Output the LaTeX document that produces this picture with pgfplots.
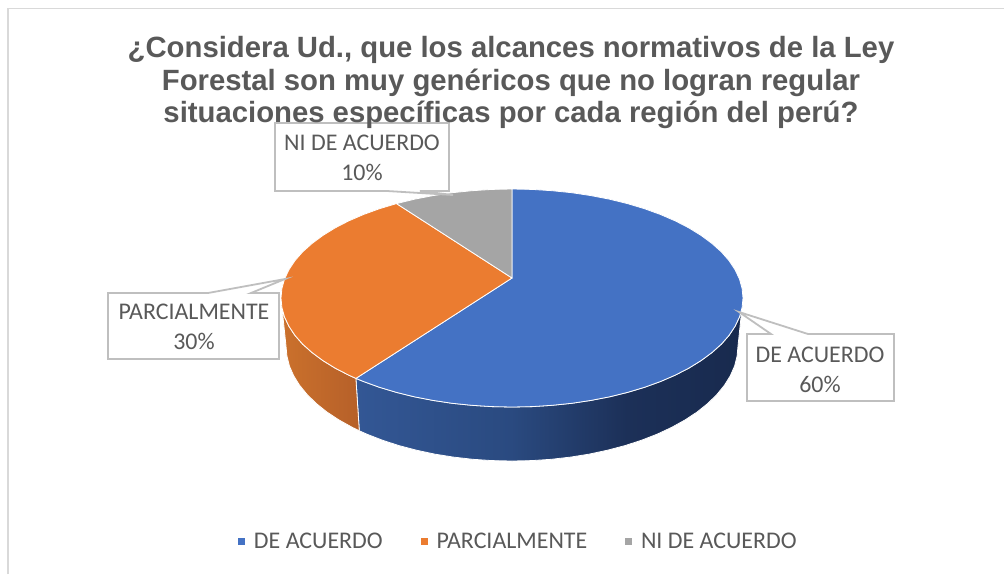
\documentclass[border=0pt]{standalone}
\usepackage{fontspec}
\setmainfont{Carlito}
\newfontfamily\titlefont{Liberation Sans}
\usepackage{pgfplots}
\pgfplotsset{compat=1.18}
\definecolor{frameline}{HTML}{D9D9D9}
\definecolor{callout}{HTML}{BFBFBF}
\definecolor{txt}{HTML}{595959}
\definecolor{blue1}{HTML}{4472C4}
\definecolor{orange1}{HTML}{EB7C30}
\definecolor{gray1}{HTML}{A5A5A5}
\definecolor{bs0}{HTML}{335795}
\definecolor{bs1}{HTML}{2A4A80}
\definecolor{bs2}{HTML}{1C3058}
\definecolor{bs3}{HTML}{182A4E}
\definecolor{os0}{HTML}{CB712C}
\definecolor{os1}{HTML}{B66029}
% side of the pie gets darker to the right
\pgfdeclarehorizontalshading{blueside}{100bp}{color(0bp)=(bs0); color(25bp)=(bs0); color(45bp)=(bs1); color(60bp)=(bs2); color(75bp)=(bs3); color(100bp)=(bs3)}
\pgfdeclarehorizontalshading{orangeside}{100bp}{color(0bp)=(os0); color(25bp)=(os0); color(75bp)=(os1); color(100bp)=(os1)}
\begin{document}
\begin{tikzpicture}
\begin{axis}[
  scale only axis,width=1004bp,height=574bp,
  xmin=0,xmax=1004,ymin=0,ymax=574,y dir=reverse,
  hide axis,clip=true,no markers,
  legend columns=3,
  legend style={at={(axis cs:237,541)},anchor=west,draw=none,fill=none,
    font=\fontsize{24}{28}\selectfont\color{txt},inner sep=0pt},
  legend cell align=left,
  /tikz/every even column/.append style={column sep=35bp},
  legend image code/.code={\fill[#1] (0bp,-4bp) rectangle (8bp,4bp);\path (0bp,0bp) (14bp,0bp);},
]
% white page, keeps the picture at full size
\addplot[fill=white,draw=none,forget plot] coordinates {(0,0)(1004,0)(1004,574)(0,574)} -- cycle;
% chart frame
\addplot[frameline,line width=1.6bp,forget plot] coordinates {(8,574)(8,8.5)(1004,8.5)};

% blue side, rim 90..222.5 then bottom edge back
\addplot[shading=blueside,draw=white,line width=0.8bp,forget plot] coordinates {
(743.0,298.0)(742.1,307.5)(739.5,316.9)(735.1,326.2)(729.1,335.3)(721.4,344.1)(712.0,352.5)(701.2,360.5)(688.9,368.1)(675.3,375.1)(660.5,381.5)(644.5,387.3)(627.5,392.4)(609.6,396.8)(591.0,400.4)(571.8,403.3)(552.1,405.3)(532.1,406.6)(512.0,407.0)(491.9,406.6)(471.9,405.3)(452.2,403.3)(433.0,400.4)(414.4,396.8)(396.5,392.4)(379.5,387.3)(363.5,381.5)(355.9,378.4)
(359.3,430.8)(366.7,434.1)(382.4,440.2)(399,445.6)(416.5,450.2)(434.7,454.1)(453.5,457.1)(472.8,459.3)(492.3,460.6)(512,461)(531.7,460.6)(551.2,459.3)(570.5,457.1)(589.3,454.1)(607.5,450.2)(625,445.6)(641.6,440.2)(657.3,434.1)(671.8,427.3)(685.1,419.9)(697.1,412)(707.7,403.5)(716.8,394.6)(724.4,385.3)(730.3,375.8)(734.6,366)(737.1,356)(738,346)
} -- cycle;

% orange side
\addplot[shading=orangeside,draw=white,line width=0.8bp,forget plot] coordinates {
(281.0,298.0)(281.9,307.5)(284.5,316.9)(288.9,326.2)(294.9,335.3)(302.6,344.1)(312.0,352.5)(322.8,360.5)(335.1,368.1)(348.7,375.1)(355.9,378.4)
(359.3,430.8)(352.2,427.3)(338.9,419.9)(326.9,412)(316.3,403.5)(307.2,394.6)(299.6,385.3)(293.7,375.8)(289.4,366)(286.9,356)(286,346)
} -- cycle;

% top faces, 60 / 30 / 10
\addplot[fill=blue1,draw=white,line width=0.8bp] coordinates {
(512,278)(512.0,189.0)(532.1,189.4)(552.1,190.7)(571.8,192.7)(591.0,195.6)(609.6,199.2)(627.5,203.6)(644.5,208.7)(660.5,214.5)(675.3,220.9)(688.9,227.9)(701.2,235.5)(712.0,243.5)(721.4,251.9)(729.1,260.7)(735.1,269.8)(739.5,279.1)(742.1,288.5)(743.0,298.0)(742.1,307.5)(739.5,316.9)(735.1,326.2)(729.1,335.3)(721.4,344.1)(712.0,352.5)(701.2,360.5)(688.9,368.1)(675.3,375.1)(660.5,381.5)(644.5,387.3)(627.5,392.4)(609.6,396.8)(591.0,400.4)(571.8,403.3)(552.1,405.3)(532.1,406.6)(512.0,407.0)(491.9,406.6)(471.9,405.3)(452.2,403.3)(433.0,400.4)(414.4,396.8)(396.5,392.4)(379.5,387.3)(363.5,381.5)(355.9,378.4)
} -- cycle;
\addlegendentry{DE ACUERDO}
\addplot[fill=orange1,draw=white,line width=0.8bp] coordinates {
(512,278)(355.9,378.4)(348.7,375.1)(335.1,368.1)(322.8,360.5)(312.0,352.5)(302.6,344.1)(294.9,335.3)(288.9,326.2)(284.5,316.9)(281.9,307.5)(281.0,298.0)(281.9,288.5)(284.5,279.1)(288.9,269.8)(294.9,260.7)(302.6,251.9)(312.0,243.5)(322.8,235.5)(335.1,227.9)(348.7,220.9)(363.5,214.5)(379.5,208.7)(396.5,203.6)
} -- cycle;
\addlegendentry{PARCIALMENTE}
\addplot[fill=gray1,draw=white,line width=0.8bp] coordinates {
(512,278)(396.5,203.6)(414.4,199.2)(433.0,195.6)(452.2,192.7)(471.9,190.7)(491.9,189.4)(512.0,189.0)
} -- cycle;
\addlegendentry{NI DE ACUERDO}

% callouts
\addplot[fill=white,draw=callout,line width=1.8bp,forget plot] coordinates {
(275,123)(449,123)(449,191)(420,191)(453,195)(387,191)(275,191)} -- cycle;
\addplot[fill=white,draw=callout,line width=1.8bp,forget plot] coordinates {
(108,293)(208,293)(285,279)(251,293)(279,293)(279,359)(108,359)} -- cycle;
\addplot[fill=white,draw=callout,line width=1.8bp,forget plot] coordinates {
(747,334)(771,334)(739,312)(808,334)(894,334)(894,401)(747,401)} -- cycle;

\begin{scope}[every node/.style={text=txt,font=\fontsize{24}{29.5}\selectfont,align=center,inner sep=0pt}]
\node at (axis cs:362,158) {NI DE ACUERDO\\10\%};
\node at (axis cs:194,327) {PARCIALMENTE\\30\%};
\node at (axis cs:820,370) {DE ACUERDO\\60\%};
\end{scope}
\node[text=txt,font=\titlefont\bfseries\fontsize{29.4}{32.6}\selectfont,align=center,inner sep=0pt]
  at (axis cs:511,82.5) {¿Considera Ud., que los alcances normativos de la Ley\\Forestal son muy genéricos que no logran regular\\situaciones específicas por cada región del perú?};
\end{axis}
\end{tikzpicture}
\end{document}
